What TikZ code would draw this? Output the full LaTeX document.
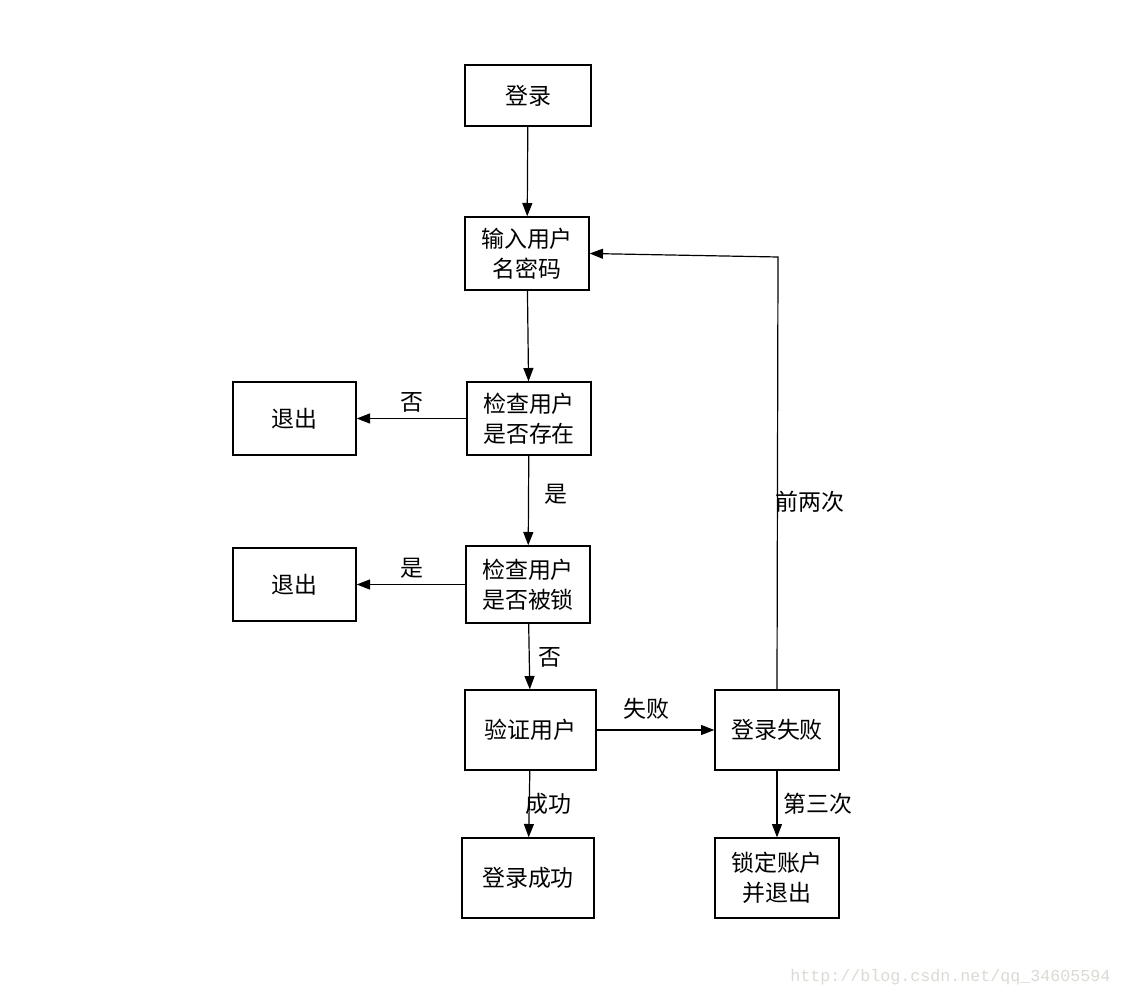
\documentclass[tikz,border=0pt]{standalone}
\usepackage{fontspec}
\setmainfont{Noto Sans CJK SC}
\newfontfamily\wmfont{Liberation Mono}
\usetikzlibrary{arrows.meta}
\definecolor{wm}{RGB}{218,218,212}
\begin{document}
\begin{tikzpicture}[x=0.75pt,y=-0.75pt,
  box/.style={draw=black,line width=1pt,fill=white,inner sep=0pt,align=center,font=\fontsize{17.2}{22.5}\selectfont},
  conn/.style={line width=0.9pt,-{Triangle[length=10pt,width=7.5pt]}},
  lbl/.style={font=\fontsize{17.2}{20}\selectfont,inner sep=0pt}]
\useasboundingbox (0,0) rectangle (1122,998);
\node[box,minimum width=126*0.75pt,minimum height=61*0.75pt] (login) at (528,95.5) {登录};
\node[box,minimum width=124*0.75pt,minimum height=73*0.75pt] (input) at (527,253.5) {输入用户\\名密码};
\node[box,minimum width=124*0.75pt,minimum height=73*0.75pt] (chk1) at (529,418.5) {检查用户\\是否存在};
\node[box,minimum width=123*0.75pt,minimum height=73*0.75pt] (exit1) at (294.5,418.5) {退出};
\node[box,minimum width=124*0.75pt,minimum height=77*0.75pt] (chk2) at (528,584.5) {检查用户\\是否被锁};
\node[box,minimum width=123*0.75pt,minimum height=73*0.75pt] (exit2) at (294.5,584.5) {退出};
\node[box,minimum width=131*0.75pt,minimum height=80*0.75pt] (verify) at (530.5,730) {验证用户};
\node[box,minimum width=124*0.75pt,minimum height=80*0.75pt] (fail) at (777,730) {登录失败};
\node[box,minimum width=132*0.75pt,minimum height=80*0.75pt] (ok) at (528,878) {登录成功};
\node[box,minimum width=124*0.75pt,minimum height=80*0.75pt] (lock) at (777,878) {锁定账户\\并退出};
\coordinate (corner) at (778,257);
\draw[conn] (login) -- (input);
\draw[conn] (input) -- (chk1);
\draw[conn] (chk1) -- (exit1);
\draw[conn] (chk1) -- (chk2);
\draw[conn] (chk2) -- (exit2);
\draw[conn] (chk2) -- (verify);
\draw[conn] (verify) -- (fail);
\draw[conn] (verify) -- (ok);
\draw[conn] (fail) -- (lock);
\draw[conn] (fail.north) -- (corner) -- (input.east);
\node[lbl] (l1) at (412,402) {否};
\node[lbl] (l2) at (556,494) {是};
\node[lbl] (l3) at (412,568) {是};
\node[lbl] (l4) at (550,657) {否};
\node[lbl] (l5) at (646,709) {失败};
\node[lbl] (l6) at (548,804) {成功};
\node[lbl] (l7) at (818,804) {第三次};
\node[lbl] (l8) at (810,502) {前两次};
\node[inner sep=0pt,text=wm,font=\wmfont\fontsize{12.5}{14}\selectfont] (wmk) at (950.5,977) {http://blog.csdn.net/qq\_34605594};
\end{tikzpicture}
\end{document}
